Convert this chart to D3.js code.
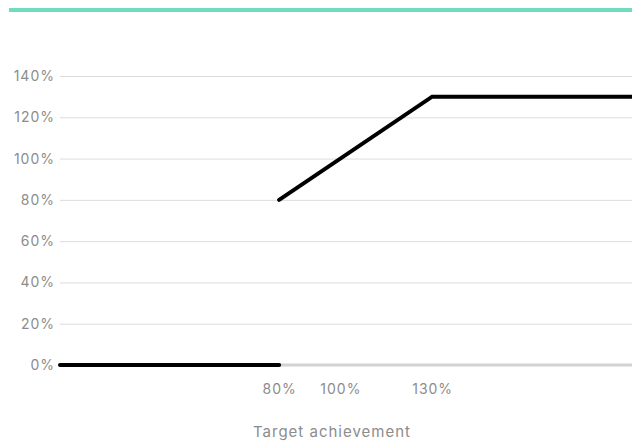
<!DOCTYPE html>
<html>
<head>
<meta charset="utf-8">
<script src="https://cdn.jsdelivr.net/npm/d3@7"></script>
<style>
  html, body { margin: 0; padding: 0; background: #fff; }
  svg { display: block; font-family: Inter, "Noto Sans", sans-serif; }
</style>
</head>
<body>
<div id="chart"></div>
<script>
const yTicks = [0, 20, 40, 60, 80, 100, 120, 140];
const xTicks = [80, 100, 130];
const xDomain = [8.4, 195.3];
// payout curve: nothing below threshold, linear from 80% to cap at 130%
const lowSegment = [[8.4, 0], [80, 0]];
const highSegment = [[80, 80], [130, 130], [195.3, 130]];
const axisTitle = "Target achievement";

const width = 632, height = 441;
const margin = { top: 76, right: 0, bottom: 76, left: 60 };

const svg = d3.select("#chart").append("svg")
  .attr("width", width)
  .attr("height", height);

// accent bar on top
svg.append("line")
  .attr("x1", 9).attr("x2", width)
  .attr("y1", 10).attr("y2", 10)
  .attr("stroke", "#6fdcbf")
  .attr("stroke-width", 4);

const x = d3.scaleLinear().domain(xDomain).range([margin.left, width - margin.right]);
const y = d3.scaleLinear().domain([0, 140]).range([height - margin.bottom, margin.top]);

const styleText = (sel, size) => sel
  .attr("fill", "#8c8c8c")
  .attr("font-size", size)
  .attr("font-family", "Inter, sans-serif")
  .attr("letter-spacing", 1);

// grid + y labels
const yAxis = (g) => g
  .attr("transform", `translate(${margin.left},0)`)
  .call(d3.axisLeft(y).tickValues(yTicks).tickFormat((d) => d + "%").tickSize(-(width - margin.left - margin.right)).tickPadding(5))
  .call((g) => g.select(".domain").remove())
  .call((g) => g.selectAll(".tick line").attr("stroke", "#dcdcdc").attr("stroke-width", 1))
  .call((g) => styleText(g.selectAll(".tick text"), 14));

svg.append("g").call(yAxis);

// baseline
svg.append("line")
  .attr("x1", x(xDomain[0])).attr("x2", x(xDomain[1]))
  .attr("y1", y(0)).attr("y2", y(0))
  .attr("stroke", "#d2d2d2")
  .attr("stroke-width", 3);

// x labels
const xAxis = (g) => g
  .attr("transform", `translate(0,${y(0)})`)
  .call(d3.axisBottom(x).tickValues(xTicks).tickFormat((d) => d + "%").tickSize(0).tickPadding(19))
  .call((g) => g.select(".domain").remove())
  .call((g) => styleText(g.selectAll(".tick text"), 14));

svg.append("g").call(xAxis);

svg.append("text")
  .attr("x", 332)
  .attr("y", 437)
  .attr("text-anchor", "middle")
  .call((t) => styleText(t, 15))
  .text(axisTitle);

const line = d3.line().x((d) => x(d[0])).y((d) => y(d[1]));

svg.append("g")
  .selectAll("path")
  .data([lowSegment, highSegment])
  .join("path")
  .attr("d", line)
  .attr("fill", "none")
  .attr("stroke", "#000")
  .attr("stroke-width", 4)
  .attr("stroke-linecap", "round")
  .attr("stroke-linejoin", "miter");
</script>
</body>
</html>
